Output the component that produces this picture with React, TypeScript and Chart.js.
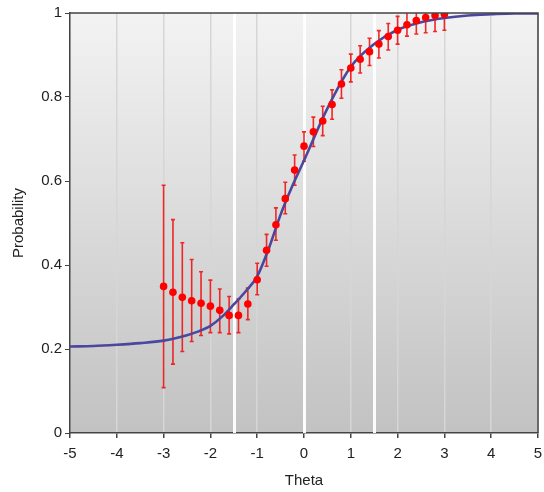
import React, { useEffect, useRef } from "react";
import { Chart, registerables } from "chart.js";

Chart.register(...registerables);

// Observed points (theta, proportion, error-bar bounds)
const obsTheta = [-3, -2.8, -2.6, -2.4, -2.2, -2, -1.8, -1.6, -1.4, -1.2, -1, -0.8, -0.6, -0.4, -0.2, 0, 0.2, 0.4, 0.6, 0.8, 1, 1.2, 1.4, 1.6, 1.8, 2, 2.2, 2.4, 2.6, 2.8, 3];
const obsProb = [0.349, 0.335, 0.323, 0.315, 0.309, 0.302, 0.292, 0.28, 0.28, 0.307, 0.365, 0.435, 0.496, 0.558, 0.626, 0.683, 0.717, 0.743, 0.782, 0.831, 0.869, 0.89, 0.908, 0.926, 0.944, 0.959, 0.972, 0.982, 0.989, 0.994, 0.997];
const obsLow = [0.108, 0.164, 0.194, 0.218, 0.232, 0.239, 0.239, 0.236, 0.239, 0.27, 0.329, 0.397, 0.459, 0.522, 0.59, 0.647, 0.682, 0.708, 0.747, 0.797, 0.836, 0.857, 0.875, 0.893, 0.912, 0.926, 0.945, 0.95, 0.953, 0.956, 0.959];
const obsHigh = [0.59, 0.508, 0.453, 0.413, 0.384, 0.364, 0.343, 0.325, 0.319, 0.345, 0.404, 0.473, 0.536, 0.597, 0.662, 0.717, 0.752, 0.778, 0.817, 0.865, 0.902, 0.922, 0.94, 0.958, 0.975, 0.992, 1.01, 1.02, 1.03, 1.03, 1.04];

// Model curve
const curveTheta = [-5, -4.5, -4, -3.5, -3, -2.5, -2.25, -2, -1.75, -1.5, -1.25, -1, -0.75, -0.5, -0.25, 0, 0.5, 1, 1.5, 2, 2.5, 3, 3.5, 4, 4.5, 5];
const curveProb = [0.206, 0.207, 0.21, 0.214, 0.22, 0.233, 0.242, 0.255, 0.277, 0.306, 0.337, 0.373, 0.44, 0.52, 0.588, 0.649, 0.773, 0.872, 0.926, 0.96, 0.978, 0.988, 0.994, 0.997, 0.999, 0.999];

// Highlighted theta references
const markerThetas = [-1.5, 0, 1.5];

const xTicks = [-5, 5, 1];
const yTicks = [0, 1, 0.2];

const FONT = "'Liberation Sans', Arial, sans-serif";

const bgPlugin = {
  id: "bgPlugin",
  beforeDraw(chart: any) {
    const { ctx, chartArea: a } = chart;
    const g = ctx.createLinearGradient(0, a.top, 0, a.bottom);
    g.addColorStop(0, "#f3f3f3");
    g.addColorStop(1, "#c2c2c2");
    ctx.save();
    ctx.fillStyle = g;
    ctx.fillRect(a.left, a.top, a.right - a.left, a.bottom - a.top);
    ctx.restore();
  },
  beforeDatasetsDraw(chart: any) {
    const { ctx, chartArea: a, scales } = chart;
    const xs = scales.x;
    const ys = scales.y;
    ctx.save();
    ctx.beginPath();
    ctx.rect(a.left, a.top, a.right - a.left, a.bottom - a.top);
    ctx.clip();
    // white reference lines
    ctx.strokeStyle = "rgba(255,255,255,0.95)";
    ctx.lineWidth = 3;
    markerThetas.forEach((t) => {
      const px = Math.round(xs.getPixelForValue(t)) + 0.5;
      ctx.beginPath();
      ctx.moveTo(px, a.top);
      ctx.lineTo(px, a.bottom);
      ctx.stroke();
    });
    // error bars
    ctx.strokeStyle = "rgba(240,20,20,0.9)";
    ctx.lineWidth = 1.6;
    obsTheta.forEach((t, i) => {
      const px = xs.getPixelForValue(t);
      const y1 = ys.getPixelForValue(obsLow[i]);
      const y2 = ys.getPixelForValue(obsHigh[i]);
      ctx.beginPath();
      ctx.moveTo(px, y1);
      ctx.lineTo(px, y2);
      ctx.moveTo(px - 2, y1);
      ctx.lineTo(px + 2, y1);
      ctx.moveTo(px - 2, y2);
      ctx.lineTo(px + 2, y2);
      ctx.stroke();
    });
    ctx.restore();
  },
  afterDraw(chart: any) {
    const { ctx, chartArea: a } = chart;
    ctx.save();
    ctx.strokeStyle = "#444";
    ctx.lineWidth = 1.5;
    ctx.beginPath();
    ctx.moveTo(a.left, a.top);
    ctx.lineTo(a.right, a.top);
    ctx.lineTo(a.right, a.bottom);
    ctx.stroke();
    ctx.restore();
  },
};

export default function App() {
  const ref = useRef<HTMLCanvasElement | null>(null);
  useEffect(() => {
    if (!ref.current) return;
    const chart = new Chart(ref.current, {
      type: "line",
      data: {
        datasets: [
          {
            label: "points",
            data: obsTheta.map((t, i) => ({ x: t, y: obsProb[i] })),
            showLine: false,
            pointRadius: 3.8,
            pointBackgroundColor: "#ff0000",
            pointBorderWidth: 0,
            borderColor: "#ff0000",
            order: 0,
          },
          {
            label: "curve",
            data: curveTheta.map((t, i) => ({ x: t, y: curveProb[i] })),
            borderColor: "#4a479c",
            borderWidth: 2.6,
            pointRadius: 0,
            cubicInterpolationMode: "monotone",
            order: 1,
          },
        ],
      },
      options: {
        animation: false,
        responsive: false,
        plugins: { legend: { display: false }, tooltip: { enabled: false } },
        layout: { padding: { top: 13, right: 6, left: 0, bottom: 0 } },
        scales: {
          x: {
            type: "linear",
            min: xTicks[0],
            max: xTicks[1],
            ticks: { stepSize: xTicks[2], color: "#222", font: { family: FONT, size: 15 }, padding: 7, maxRotation: 0 },
            grid: { color: "#d6d6d6", lineWidth: 1.5, tickColor: "#444", tickLength: 5 },
            border: { display: true, color: "#444", width: 1.5 },
            title: { display: true, text: "Theta", color: "#222", font: { family: FONT, size: 15 }, padding: { top: 0, bottom: 2 } },
            afterFit: (s: any) => { s.height = 59; s.paddingRight = 0; },
          },
          y: {
            type: "linear",
            min: yTicks[0],
            max: yTicks[1],
            ticks: {
              stepSize: yTicks[2],
              color: "#222",
              font: { family: FONT, size: 15 },
              padding: 3,
              callback: (v: any) => String(+Number(v).toFixed(1)),
            },
            grid: { drawOnChartArea: false, tickColor: "#444", tickLength: 5 },
            border: { display: true, color: "#444", width: 1.5 },
            title: { display: true, text: "Probability", color: "#222", font: { family: FONT, size: 15 }, padding: { top: 10, bottom: 0 } },
            afterFit: (s: any) => { s.width = 70; s.paddingTop = 0; s.paddingBottom = 0; },
          },
        },
      },
      plugins: [bgPlugin],
    } as any);
    return () => chart.destroy();
  }, []);
  return (
    <div style={{ position: "absolute", left: 0, top: 0, width: 544, height: 492, background: "#fff" }}>
      <canvas ref={ref} width={544} height={492} />
    </div>
  );
}
